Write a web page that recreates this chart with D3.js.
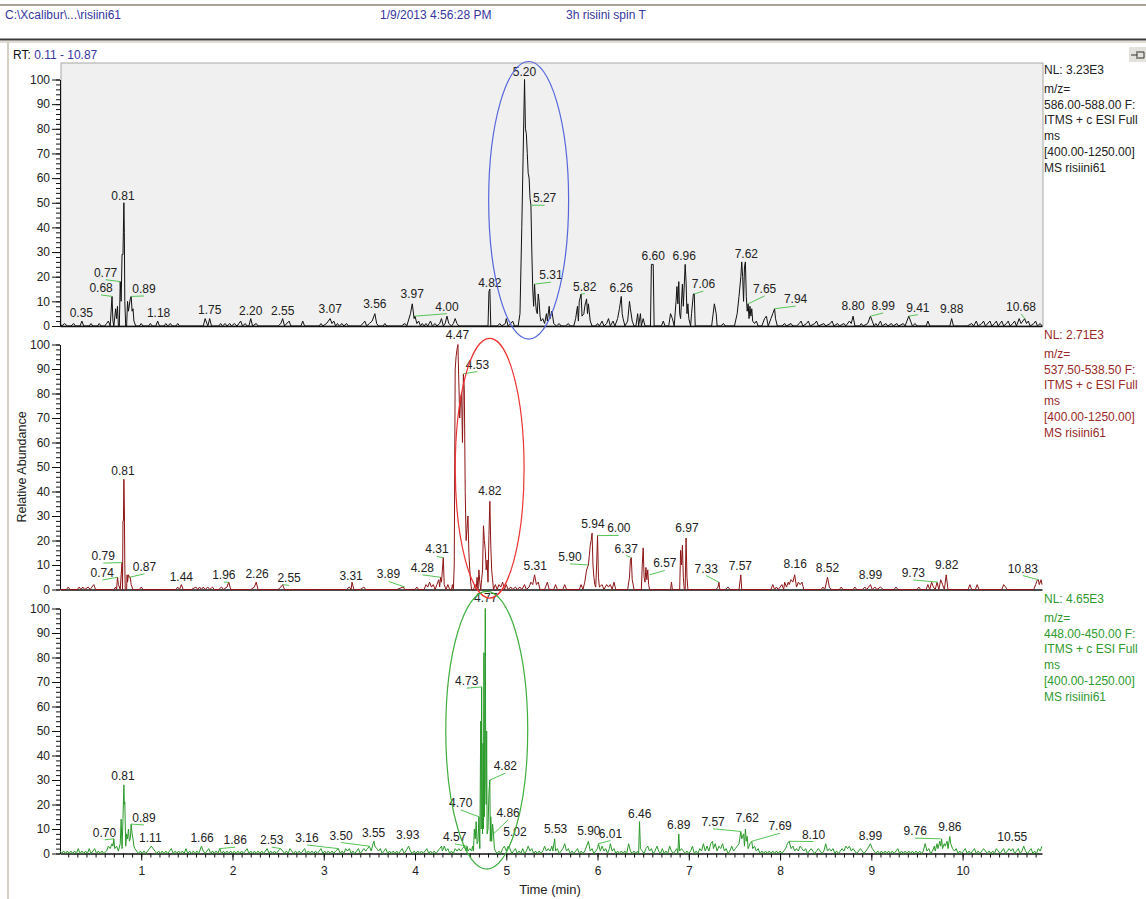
<!DOCTYPE html>
<html><head><meta charset="utf-8">
<script src="https://cdn.jsdelivr.net/npm/d3@7"></script>
<style>
html,body{margin:0;padding:0;background:#fff;}
svg{display:block;font-family:"Liberation Sans",Arial,sans-serif;}
</style></head>
<body>
<svg id="c" width="1146" height="899"></svg>
<script>
// ---------------- DATA ----------------
const headerTexts = ["C:\\Xcalibur\\...\\risiini61", "1/9/2013 4:56:28 PM", "3h risiini spin T"];
const rtRange = [0.11, 10.87];
const yTicks = [0,10,20,30,40,50,60,70,80,90,100];
const xTicks = [1,2,3,4,5,6,7,8,9,10];
const nlLabels = ["NL: 3.23E3", "NL: 2.71E3", "NL: 4.65E3"];
const mzRanges = ["586.00-588.00 F:", "537.50-538.50 F:", "448.00-450.00 F:"];
const scanLines = ["ITMS + c ESI Full", "ms", "[400.00-1250.00]", "MS risiini61"];

// trace 1 : m/z 586-588 (black)
const trace1 = [[0.11,1],[0.13,0],[0.16,1],[0.19,0],[0.23,0],[0.26,1],[0.28,0],[0.33,0],[0.35,2],[0.37,0],[0.43,0],[0.45,1],[0.47,0],[0.52,0],[0.54,1],[0.56,0],[0.60,0],[0.62,1],[0.64,2],[0.66,0],[0.68,12],[0.69,2],[0.70,0],[0.72,7],[0.73,3],[0.74,8],[0.75,0],[0.76,0],[0.77,18],[0.78,10],[0.79,29],[0.80,29],[0.81,50],[0.815,38],[0.82,10],[0.83,0],[0.84,0],[0.85,10],[0.86,6],[0.88,11],[0.89,12],[0.90,6],[0.91,7],[0.92,2],[0.94,0],[0.98,0],[1.00,1],[1.02,0],[1.08,0],[1.10,1],[1.12,0],[1.16,0],[1.18,2],[1.20,0],[1.25,0],[1.27,1],[1.29,0],[1.32,1],[1.34,0],[1.38,0],[1.40,1],[1.42,0],[1.50,0],[1.60,0],[1.68,0],[1.70,3],[1.72,1],[1.73,0],[1.75,3],[1.77,0],[1.85,0],[1.87,1],[1.89,0],[1.92,1],[1.94,0],[1.97,1],[1.99,0],[2.02,1],[2.05,0],[2.09,2],[2.11,0],[2.14,1],[2.16,0],[2.18,0],[2.20,3],[2.22,0],[2.26,1],[2.28,0],[2.33,0],[2.40,0],[2.50,0],[2.53,1],[2.55,3],[2.57,0],[2.62,2],[2.64,0],[2.75,0],[2.77,2],[2.79,0],[2.90,0],[2.95,0],[2.97,1],[2.99,0],[3.03,1],[3.05,2],[3.07,3],[3.09,1],[3.11,2],[3.13,0],[3.15,1],[3.17,0],[3.20,1],[3.22,0],[3.25,1],[3.27,0],[3.35,0],[3.40,0],[3.43,1],[3.45,2],[3.47,0],[3.50,1],[3.53,2],[3.56,5],[3.58,1],[3.60,0],[3.65,0],[3.67,1],[3.69,0],[3.75,0],[3.80,0],[3.85,0],[3.89,1],[3.91,0],[3.95,5],[3.97,9],[3.99,3],[4.00,4],[4.02,1],[4.04,2],[4.06,0],[4.08,1],[4.10,0],[4.12,1],[4.14,0],[4.17,2],[4.19,0],[4.22,1],[4.24,0],[4.27,1],[4.29,3],[4.31,0],[4.33,1],[4.35,4],[4.37,1],[4.40,0],[4.42,1],[4.44,3],[4.46,1],[4.48,0],[4.55,0],[4.60,0],[4.65,0],[4.72,0],[4.80,0],[4.81,14],[4.82,15],[4.83,0],[4.90,0],[4.93,1],[4.95,0],[4.99,1],[5.00,3],[5.02,0],[5.05,1],[5.07,2],[5.09,0],[5.13,0],[5.15,5],[5.17,40],[5.18,60],[5.20,100],[5.21,80],[5.22,78],[5.23,70],[5.24,62],[5.25,60],[5.26,52],[5.27,49],[5.28,30],[5.29,15],[5.30,8],[5.31,17],[5.32,10],[5.33,6],[5.34,5],[5.35,13],[5.36,10],[5.37,4],[5.38,2],[5.40,3],[5.42,1],[5.44,5],[5.45,2],[5.47,8],[5.48,3],[5.50,6],[5.52,1],[5.55,0],[5.58,1],[5.60,0],[5.65,0],[5.68,1],[5.70,0],[5.74,0],[5.76,3],[5.78,8],[5.79,2],[5.80,10],[5.82,13],[5.83,4],[5.85,5],[5.86,8],[5.88,11],[5.89,5],[5.90,9],[5.92,2],[5.94,0],[5.98,0],[6.00,1],[6.02,0],[6.05,2],[6.07,0],[6.10,1],[6.12,3],[6.14,0],[6.17,2],[6.19,0],[6.22,3],[6.24,7],[6.26,12],[6.27,5],[6.28,3],[6.30,0],[6.33,2],[6.35,10],[6.36,7],[6.38,2],[6.40,0],[6.42,0],[6.44,5],[6.45,0],[6.47,5],[6.48,0],[6.50,3],[6.52,0],[6.58,0],[6.59,25],[6.61,25],[6.62,0],[6.65,0],[6.70,0],[6.72,2],[6.74,0],[6.78,0],[6.80,5],[6.82,3],[6.84,0],[6.86,10],[6.87,16],[6.88,9],[6.89,18],[6.90,5],[6.91,3],[6.93,17],[6.94,8],[6.96,25],[6.97,18],[6.98,5],[6.99,9],[7.00,3],[7.02,0],[7.03,5],[7.05,13],[7.06,13],[7.07,0],[7.10,0],[7.15,0],[7.20,0],[7.25,0],[7.28,9],[7.30,5],[7.31,0],[7.35,0],[7.38,1],[7.40,0],[7.45,0],[7.50,0],[7.53,5],[7.55,12],[7.57,20],[7.58,26],[7.59,20],[7.60,10],[7.61,24],[7.62,26],[7.63,12],[7.64,6],[7.65,9],[7.66,3],[7.67,8],[7.68,4],[7.69,7],[7.70,2],[7.72,1],[7.74,2],[7.76,0],[7.80,0],[7.83,3],[7.85,4],[7.87,0],[7.90,3],[7.92,5],[7.94,7],[7.95,3],[7.97,0],[8.02,0],[8.05,1],[8.07,0],[8.12,1],[8.14,0],[8.18,0],[8.21,1],[8.23,2],[8.25,0],[8.29,1],[8.31,2],[8.33,0],[8.38,1],[8.40,2],[8.42,0],[8.48,1],[8.50,0],[8.55,1],[8.57,2],[8.59,0],[8.63,1],[8.65,0],[8.70,1],[8.72,0],[8.76,2],[8.78,1],[8.80,4],[8.82,0],[8.87,0],[8.89,1],[8.91,0],[8.96,1],[8.99,4],[9.01,2],[9.03,0],[9.05,1],[9.07,0],[9.10,2],[9.12,0],[9.16,1],[9.18,0],[9.22,1],[9.24,0],[9.28,1],[9.30,0],[9.35,1],[9.37,0],[9.39,2],[9.41,4],[9.43,2],[9.45,0],[9.48,1],[9.50,0],[9.55,0],[9.60,0],[9.62,2],[9.64,0],[9.70,0],[9.80,0],[9.86,0],[9.88,3],[9.90,0],[9.98,0],[10.00,0],[10.05,0],[10.10,1],[10.12,0],[10.15,2],[10.17,0],[10.21,1],[10.23,2],[10.25,0],[10.30,2],[10.32,0],[10.35,1],[10.37,2],[10.39,0],[10.43,2],[10.45,0],[10.48,1],[10.50,2],[10.52,0],[10.55,1],[10.57,2],[10.59,0],[10.62,3],[10.64,1],[10.66,2],[10.68,3],[10.70,1],[10.72,2],[10.74,0],[10.78,1],[10.80,2],[10.82,0],[10.85,1],[10.87,0]];

// trace 2 : m/z 537.5-538.5 (dark red)
const trace2 = [[0.11,0],[0.18,0],[0.20,1],[0.22,0],[0.30,0],[0.32,1],[0.34,0],[0.36,1],[0.38,0],[0.42,1],[0.44,0],[0.48,2],[0.50,0],[0.58,0],[0.62,0],[0.70,0],[0.72,1],[0.73,0],[0.74,5],[0.75,2],[0.77,0],[0.78,6],[0.79,11],[0.795,0],[0.80,28],[0.805,28],[0.81,45],[0.815,34],[0.82,10],[0.825,0],[0.84,0],[0.845,6],[0.85,3],[0.86,6],[0.87,5],[0.88,5],[0.89,2],[0.91,0],[0.98,0],[1.00,1],[1.02,0],[1.10,0],[1.20,0],[1.30,0],[1.38,0],[1.40,1],[1.42,0],[1.44,2],[1.46,0],[1.50,0],[1.55,0],[1.60,1],[1.62,0],[1.64,1],[1.66,0],[1.68,1],[1.70,0],[1.73,1],[1.75,0],[1.78,1],[1.80,0],[1.85,0],[1.88,1],[1.90,0],[1.94,1],[1.96,3],[1.98,0],[2.05,0],[2.15,0],[2.20,0],[2.24,1],[2.26,3],[2.28,0],[2.40,0],[2.50,0],[2.53,1],[2.55,2],[2.57,0],[2.70,0],[2.90,0],[3.10,0],[3.25,0],[3.28,1],[3.30,0],[3.31,3],[3.33,0],[3.40,0],[3.44,1],[3.46,0],[3.60,0],[3.80,0],[3.87,1],[3.89,0],[3.95,0],[4.00,0],[4.02,1],[4.04,0],[4.10,0],[4.12,2],[4.14,1],[4.16,3],[4.18,1],[4.20,2],[4.22,0],[4.24,2],[4.26,4],[4.27,1],[4.28,5],[4.29,3],[4.30,8],[4.31,13],[4.32,2],[4.34,0],[4.36,2],[4.38,0],[4.40,0],[4.41,2],[4.42,0],[4.43,10],[4.44,90],[4.45,95],[4.46,98],[4.47,100],[4.48,85],[4.49,70],[4.50,78],[4.51,80],[4.52,60],[4.53,88],[4.54,82],[4.55,40],[4.56,20],[4.57,25],[4.58,30],[4.59,15],[4.60,8],[4.61,3],[4.62,0],[4.64,0],[4.66,2],[4.67,0],[4.68,5],[4.69,0],[4.70,8],[4.71,3],[4.72,0],[4.73,4],[4.74,8],[4.75,26],[4.76,20],[4.77,16],[4.78,8],[4.79,12],[4.80,3],[4.81,22],[4.82,36],[4.83,18],[4.84,8],[4.85,4],[4.86,0],[4.88,2],[4.90,0],[4.92,2],[4.94,1],[4.96,3],[4.98,0],[5.00,2],[5.02,0],[5.05,1],[5.07,0],[5.10,1],[5.12,0],[5.15,1],[5.17,0],[5.20,2],[5.22,0],[5.25,1],[5.27,3],[5.29,2],[5.31,6],[5.33,2],[5.35,3],[5.37,0],[5.42,0],[5.45,3],[5.47,0],[5.52,0],[5.54,2],[5.56,0],[5.62,0],[5.64,2],[5.66,0],[5.75,0],[5.80,0],[5.82,2],[5.84,0],[5.86,3],[5.88,8],[5.90,10],[5.91,14],[5.92,18],[5.93,20],[5.94,23],[5.95,10],[5.96,5],[5.97,2],[5.98,1],[5.99,10],[6.00,22],[6.01,5],[6.02,1],[6.05,2],[6.07,0],[6.10,2],[6.12,1],[6.14,2],[6.16,0],[6.18,3],[6.20,0],[6.25,0],[6.30,0],[6.33,0],[6.35,5],[6.36,12],[6.37,13],[6.38,4],[6.40,0],[6.45,0],[6.48,0],[6.49,10],[6.50,17],[6.51,5],[6.52,3],[6.53,9],[6.54,4],[6.55,8],[6.56,2],[6.57,0],[6.60,0],[6.70,0],[6.80,0],[6.81,3],[6.82,0],[6.90,0],[6.91,16],[6.92,10],[6.93,18],[6.94,5],[6.95,0],[6.96,0],[6.97,21],[6.98,5],[6.99,0],[7.05,0],[7.15,0],[7.30,0],[7.32,1],[7.33,3],[7.34,0],[7.40,0],[7.43,1],[7.45,0],[7.55,0],[7.57,6],[7.58,0],[7.65,0],[7.80,0],[7.90,0],[7.92,2],[7.94,0],[7.96,1],[7.98,0],[8.02,2],[8.04,0],[8.05,3],[8.07,1],[8.09,3],[8.10,2],[8.12,4],[8.14,3],[8.16,6],[8.18,1],[8.20,3],[8.22,2],[8.24,3],[8.26,0],[8.30,0],[8.40,0],[8.45,0],[8.47,1],[8.49,0],[8.52,5],[8.54,1],[8.56,0],[8.65,0],[8.67,1],[8.69,0],[8.80,0],[8.82,1],[8.84,0],[8.90,0],[8.93,1],[8.95,0],[8.97,1],[8.99,2],[9.01,0],[9.04,1],[9.06,0],[9.10,1],[9.13,0],[9.20,0],[9.25,0],[9.27,1],[9.29,0],[9.40,0],[9.50,0],[9.52,1],[9.54,0],[9.60,0],[9.62,2],[9.64,0],[9.66,3],[9.68,1],[9.70,0],[9.72,3],[9.74,0],[9.76,4],[9.78,2],[9.80,0],[9.82,6],[9.84,0],[9.90,0],[10.00,0],[10.06,0],[10.08,2],[10.10,0],[10.14,0],[10.16,2],[10.18,0],[10.30,0],[10.40,0],[10.43,0],[10.45,2],[10.47,1],[10.49,0],[10.60,0],[10.70,0],[10.78,0],[10.80,2],[10.82,4],[10.83,4],[10.84,2],[10.86,4],[10.87,2]];

// trace 3 : m/z 448-450 (green)
const trace3 = [[0.11,1],[0.13,0],[0.15,1],[0.17,0],[0.19,1],[0.21,0],[0.23,1],[0.25,0],[0.27,1],[0.29,0],[0.31,2],[0.33,0],[0.35,1],[0.37,0],[0.39,1],[0.41,0],[0.43,2],[0.45,0],[0.47,1],[0.49,2],[0.51,0],[0.53,1],[0.55,0],[0.57,1],[0.59,0],[0.62,1],[0.64,3],[0.66,2],[0.68,4],[0.69,3],[0.70,6],[0.71,2],[0.73,3],[0.75,1],[0.77,4],[0.78,14],[0.79,2],[0.80,14],[0.81,28],[0.815,20],[0.82,21],[0.83,3],[0.84,8],[0.85,6],[0.86,10],[0.87,5],[0.88,6],[0.89,12],[0.90,8],[0.91,6],[0.92,3],[0.93,2],[0.95,1],[0.97,0],[0.99,1],[1.01,0],[1.03,1],[1.05,0],[1.07,1],[1.09,2],[1.11,3],[1.13,2],[1.15,1],[1.17,0],[1.19,1],[1.21,0],[1.23,1],[1.25,0],[1.27,1],[1.29,0],[1.31,1],[1.33,2],[1.35,0],[1.37,1],[1.39,0],[1.41,1],[1.43,0],[1.45,1],[1.47,0],[1.49,2],[1.51,0],[1.53,1],[1.55,0],[1.57,1],[1.59,0],[1.61,1],[1.63,0],[1.66,3],[1.68,1],[1.70,0],[1.72,1],[1.74,2],[1.76,0],[1.78,1],[1.80,0],[1.82,1],[1.84,0],[1.86,2],[1.88,0],[1.90,1],[1.92,0],[1.94,1],[1.96,0],[1.98,1],[2.00,0],[2.02,1],[2.04,0],[2.06,1],[2.08,0],[2.10,1],[2.12,0],[2.14,1],[2.16,2],[2.18,0],[2.20,1],[2.22,0],[2.24,1],[2.26,0],[2.28,1],[2.30,0],[2.32,1],[2.34,0],[2.36,1],[2.38,2],[2.40,0],[2.42,1],[2.44,0],[2.46,1],[2.48,0],[2.50,1],[2.53,2],[2.55,1],[2.57,0],[2.59,1],[2.61,0],[2.63,2],[2.65,1],[2.67,0],[2.69,1],[2.71,0],[2.73,1],[2.75,0],[2.77,1],[2.79,2],[2.81,0],[2.83,1],[2.85,0],[2.87,1],[2.89,0],[2.91,1],[2.93,0],[2.95,1],[2.97,2],[2.99,0],[3.01,1],[3.03,0],[3.05,1],[3.07,0],[3.09,1],[3.11,0],[3.13,1],[3.16,2],[3.18,0],[3.20,1],[3.22,0],[3.24,2],[3.26,1],[3.28,2],[3.30,0],[3.32,1],[3.34,0],[3.36,1],[3.38,2],[3.40,0],[3.42,1],[3.44,2],[3.46,1],[3.48,2],[3.50,3],[3.52,1],[3.54,4],[3.55,5],[3.56,3],[3.58,2],[3.60,1],[3.62,2],[3.64,0],[3.66,1],[3.68,2],[3.70,0],[3.72,1],[3.74,0],[3.76,1],[3.78,0],[3.80,1],[3.82,0],[3.84,1],[3.86,2],[3.88,0],[3.90,1],[3.93,3],[3.95,1],[3.97,0],[3.99,1],[4.01,0],[4.03,1],[4.05,0],[4.07,1],[4.09,0],[4.11,1],[4.13,2],[4.15,0],[4.17,1],[4.19,0],[4.21,1],[4.23,0],[4.25,1],[4.27,2],[4.29,3],[4.30,1],[4.32,3],[4.34,1],[4.36,2],[4.38,0],[4.40,1],[4.42,0],[4.44,2],[4.46,1],[4.48,2],[4.50,1],[4.52,2],[4.54,3],[4.56,1],[4.57,3],[4.58,1],[4.60,2],[4.62,1],[4.63,3],[4.64,1],[4.65,10],[4.66,6],[4.67,13],[4.68,4],[4.69,5],[4.70,15],[4.71,2],[4.72,54],[4.725,10],[4.73,68],[4.735,20],[4.74,8],[4.745,45],[4.75,10],[4.755,82],[4.76,15],[4.77,100],[4.775,30],[4.78,20],[4.785,50],[4.79,8],[4.80,10],[4.81,25],[4.82,30],[4.825,5],[4.83,15],[4.84,5],[4.85,12],[4.86,8],[4.87,2],[4.88,1],[4.90,0],[4.92,1],[4.94,0],[4.96,2],[4.98,3],[5.00,1],[5.02,3],[5.04,2],[5.06,0],[5.08,1],[5.10,2],[5.12,0],[5.14,1],[5.16,0],[5.18,2],[5.20,0],[5.22,1],[5.24,3],[5.26,1],[5.28,2],[5.30,0],[5.32,1],[5.34,0],[5.36,1],[5.38,0],[5.40,1],[5.42,3],[5.44,1],[5.46,2],[5.48,1],[5.50,3],[5.51,1],[5.53,6],[5.54,1],[5.56,2],[5.58,0],[5.60,1],[5.62,2],[5.64,4],[5.66,1],[5.68,2],[5.70,0],[5.72,1],[5.74,0],[5.76,1],[5.78,2],[5.80,0],[5.82,1],[5.84,0],[5.86,1],[5.88,3],[5.90,5],[5.92,1],[5.94,2],[5.96,0],[5.98,1],[6.00,2],[6.01,4],[6.03,1],[6.05,3],[6.07,1],[6.09,2],[6.11,0],[6.13,2],[6.14,4],[6.16,1],[6.18,2],[6.20,0],[6.22,1],[6.24,0],[6.26,1],[6.28,0],[6.30,1],[6.32,0],[6.34,4],[6.36,1],[6.38,0],[6.40,1],[6.42,0],[6.44,1],[6.45,0],[6.46,13],[6.47,2],[6.49,1],[6.51,0],[6.53,2],[6.55,3],[6.57,1],[6.59,2],[6.61,0],[6.63,1],[6.65,3],[6.67,1],[6.69,0],[6.71,2],[6.73,0],[6.75,1],[6.77,0],[6.79,3],[6.81,1],[6.83,0],[6.85,1],[6.87,2],[6.88,0],[6.89,8],[6.90,1],[6.92,2],[6.94,1],[6.96,0],[6.98,1],[7.00,0],[7.02,1],[7.04,3],[7.06,0],[7.08,1],[7.10,0],[7.12,2],[7.14,1],[7.16,4],[7.18,1],[7.20,3],[7.22,1],[7.24,4],[7.26,5],[7.27,2],[7.29,4],[7.31,1],[7.33,3],[7.35,2],[7.37,4],[7.39,1],[7.41,2],[7.43,0],[7.45,1],[7.47,3],[7.49,1],[7.51,2],[7.53,3],[7.55,4],[7.57,9],[7.58,6],[7.60,8],[7.61,3],[7.62,10],[7.63,5],[7.64,7],[7.65,2],[7.67,4],[7.69,5],[7.70,2],[7.72,3],[7.74,1],[7.76,2],[7.78,0],[7.80,1],[7.82,0],[7.84,1],[7.86,0],[7.88,1],[7.90,0],[7.92,1],[7.94,0],[7.96,1],[7.98,0],[8.00,1],[8.02,0],[8.04,1],[8.06,2],[8.08,4],[8.10,5],[8.12,2],[8.14,3],[8.16,1],[8.18,2],[8.20,1],[8.22,3],[8.24,2],[8.26,1],[8.28,2],[8.30,0],[8.32,1],[8.34,2],[8.36,1],[8.38,0],[8.40,1],[8.42,2],[8.44,1],[8.46,0],[8.48,1],[8.50,4],[8.52,1],[8.54,2],[8.56,1],[8.58,2],[8.60,0],[8.62,1],[8.64,0],[8.66,1],[8.68,2],[8.70,1],[8.72,3],[8.74,2],[8.76,3],[8.78,1],[8.80,2],[8.82,1],[8.84,0],[8.86,1],[8.88,2],[8.90,1],[8.92,0],[8.94,1],[8.96,2],[8.99,4],[9.01,2],[9.03,1],[9.05,0],[9.07,1],[9.09,0],[9.11,1],[9.13,0],[9.15,1],[9.17,0],[9.19,1],[9.21,0],[9.23,1],[9.25,0],[9.27,1],[9.29,2],[9.31,0],[9.33,1],[9.35,0],[9.37,1],[9.39,0],[9.41,1],[9.43,0],[9.45,1],[9.47,0],[9.49,1],[9.51,0],[9.53,1],[9.55,0],[9.57,1],[9.59,4],[9.61,1],[9.63,2],[9.65,0],[9.67,1],[9.69,3],[9.70,1],[9.72,4],[9.73,2],[9.75,5],[9.76,3],[9.77,6],[9.78,2],[9.80,4],[9.81,3],[9.83,5],[9.84,2],[9.86,7],[9.87,4],[9.89,2],[9.91,1],[9.93,2],[9.95,0],[9.97,1],[9.99,0],[10.01,1],[10.03,2],[10.05,0],[10.07,1],[10.09,0],[10.11,1],[10.13,2],[10.15,0],[10.17,1],[10.19,0],[10.21,1],[10.23,2],[10.25,1],[10.27,0],[10.29,1],[10.31,0],[10.33,1],[10.35,0],[10.37,2],[10.39,1],[10.41,0],[10.43,1],[10.45,2],[10.47,0],[10.49,1],[10.51,2],[10.53,1],[10.55,2],[10.57,0],[10.59,1],[10.61,2],[10.63,0],[10.65,1],[10.67,3],[10.69,1],[10.71,0],[10.73,1],[10.75,2],[10.77,0],[10.79,1],[10.81,0],[10.83,2],[10.85,1],[10.87,3]];

// peak labels: [text, peak time, peak value, label time (centre), label level (baseline), leader]
const labels1 = [["0.35",0.35,2,0.344,3.6,0],["0.68",0.68,12,0.56,13.8,1],["0.77",0.77,18,0.61,20,1],["0.81",0.81,50,0.80,51,0],["0.89",0.89,12,1.03,13.4,1],["1.18",1.18,2,1.19,3.8,0],["1.75",1.75,3,1.75,4.9,0],["2.20",2.20,3,2.20,4.5,0],["2.55",2.55,3,2.55,4.5,0],["3.07",3.07,3,3.07,5.3,0],["3.56",3.56,5,3.56,7.3,0],["3.97",3.97,9,3.97,11.3,0],["4.00",4.00,4,4.35,6.2,1],["4.82",4.82,15,4.82,15.9,0],["5.20",5.20,100,5.20,101.3,0],["5.27",5.27,49,5.42,50.2,1],["5.31",5.31,17,5.49,19,1],["5.82",5.82,13,5.86,14.3,1],["6.26",6.26,12,6.26,13.9,0],["6.60",6.60,25,6.61,26.7,0],["6.96",6.96,25,6.95,26.7,0],["7.06",7.06,13,7.16,15.4,1],["7.62",7.62,26,7.63,27.5,0],["7.65",7.65,9,7.83,13.4,1],["7.94",7.94,7,8.17,9.3,1],["8.80",8.80,4,8.80,6.5,0],["8.99",8.99,4,9.13,6.5,1],["9.41",9.41,4,9.51,5.8,1],["9.88",9.88,3,9.88,5.4,0],["10.68",10.68,3,10.64,6.2,1]];
const labels2 = [["0.74",0.74,5,0.573,5.1,1],["0.79",0.79,11,0.584,12,1],["0.81",0.81,45,0.80,46.7,0],["0.87",0.87,5,1.036,7.6,1],["1.44",1.44,2,1.44,3.5,0],["1.96",1.96,3,1.905,4.2,1],["2.26",2.26,3,2.27,4.7,0],["2.55",2.55,2,2.62,2.9,1],["3.31",3.31,3,3.30,3.8,0],["3.89",3.89,1,3.71,4.5,1],["4.28",4.28,5,4.08,7.2,1],["4.31",4.31,13,4.24,14.7,1],["4.47",4.47,100,4.465,102.4,0],["4.53",4.53,88,4.684,90.2,1],["4.82",4.82,36,4.82,38.5,0],["5.31",5.31,6,5.318,7.9,0],["5.90",5.90,10,5.697,11.7,1],["5.94",5.94,23,5.95,25.3,0],["6.00",6.00,22,6.233,23.3,1],["6.37",6.37,13,6.314,15.1,1],["6.57",6.57,6,6.737,9,1],["6.97",6.97,21,6.98,23.3,0],["7.33",7.33,3,7.19,6.9,1],["7.57",7.57,6,7.565,7.9,0],["8.16",8.16,6,8.166,8.6,0],["8.52",8.52,5,8.52,7.2,0],["8.99",8.99,2,8.99,4.1,0],["9.73",9.73,3,9.46,5.1,1],["9.82",9.82,6,9.826,8.2,0],["10.83",10.83,4,10.66,6.9,1]];
const labels3 = [["0.70",0.70,6,0.598,6.8,1],["0.81",0.81,28,0.80,29.9,0],["0.89",0.89,12,1.03,12.9,1],["1.11",1.11,3,1.10,4.7,0],["1.66",1.66,3,1.667,4.5,0],["1.86",1.86,2,2.03,3.8,1],["2.53",2.53,2,2.43,3.8,1],["3.16",3.16,2,2.816,4.7,1],["3.50",3.50,3,3.19,5.7,1],["3.55",3.55,5,3.546,6.8,0],["3.93",3.93,3,3.92,6.1,0],["4.57",4.57,3,4.435,5.1,1],["4.70",4.70,15,4.50,19,1],["4.73",4.73,68,4.567,68.7,1],["4.77",4.77,100,4.775,102.7,0],["4.82",4.82,30,4.99,34,1],["4.86",4.86,8,5.02,15,1],["5.02",5.02,3,5.095,7,0],["5.53",5.53,6,5.54,8.4,0],["5.90",5.90,5,5.905,7.5,0],["6.01",6.01,4,6.142,6.5,1],["6.46",6.46,13,6.463,14.5,0],["6.89",6.89,8,6.89,9.9,0],["7.57",7.57,9,7.266,11.3,1],["7.62",7.62,10,7.64,12.9,0],["7.69",7.69,5,8.00,9.5,1],["8.10",8.10,5,8.367,6.1,1],["8.99",8.99,4,8.99,5.7,0],["9.76",9.76,6,9.48,7.5,1],["9.86",9.86,7,9.86,9.2,0],["10.55",10.55,2,10.544,5.1,0]];

// highlighted regions: [centre time, centre level, half-width (min), half-height (%)]
const ellipses = [[5.245,51,0.438,56.3],[4.818,49.5,0.377,53],[4.786,50.3,0.449,56.7]];

// ---------------- DRAW ----------------
const svg = d3.select("#c");
const FONT = '"Liberation Sans",Arial,sans-serif';
const panels = [
  {y0:326, y1:79.5, color:"#111111", text:"#222222", trace:trace1, labels:labels1, ell:"#5566dd"},
  {y0:589.5, y1:344.5, color:"#8e1515", text:"#9a2a2a", trace:trace2, labels:labels2, ell:"#ee3333"},
  {y0:853.5, y1:608.5, color:"#2a9a2a", text:"#2f9a2f", trace:trace3, labels:labels3, ell:"#3fae3f"}
];
const x = d3.scaleLinear().domain(rtRange).range([60, 1042]);

// window chrome
svg.append("line").attr("x1",0).attr("x2",1146).attr("y1",5).attr("y2",5).attr("stroke","#8c8474").attr("stroke-width",1.5);
svg.append("line").attr("x1",0).attr("x2",1146).attr("y1",39.5).attr("y2",39.5).attr("stroke","#3a3a3a").attr("stroke-width",2);
svg.append("line").attr("x1",0).attr("x2",1146).attr("y1",42).attr("y2",42).attr("stroke","#d8d2c4").attr("stroke-width",1.5);
svg.append("line").attr("x1",8).attr("x2",8).attr("y1",42).attr("y2",899).attr("stroke","#d4cfc2").attr("stroke-width",2);
const hx = [5, 380, 566];
headerTexts.forEach((t,i)=>svg.append("text").attr("x",hx[i]).attr("y",19).attr("font-family",FONT).attr("font-size",12).attr("fill","#3636a0").text(t));
const rt = svg.append("text").attr("x",13).attr("y",59).attr("font-family",FONT).attr("font-size",12);
rt.append("tspan").attr("fill","#111").text("RT: ");
rt.append("tspan").attr("fill","#3636a0").text(rtRange[0].toFixed(2)+" - "+rtRange[1].toFixed(2));
// pin button
svg.append("rect").attr("x",1129).attr("y",47).attr("width",17).attr("height",15).attr("fill","#e4e2dc");
svg.append("path").attr("d","M1131,55 h6 M1137,51 v8 M1138,52 h6 v6 h-6").attr("stroke","#333").attr("fill","none").attr("stroke-width",1);

// top panel background
svg.append("rect").attr("x",61).attr("y",63).attr("width",982).attr("height",263).attr("fill","#f0f0f0").attr("stroke","#a8a8a8").attr("stroke-width",1);

panels.forEach((p,pi)=>{
  const y = d3.scaleLinear().domain([0,100]).range([p.y0, p.y1]);
  p.y = y;
  // y axis
  const gy = svg.append("g").attr("transform","translate(60,0)");
  gy.call(d3.axisLeft(y).tickValues(d3.range(0,101,2)).tickSize(4).tickSizeOuter(0).tickFormat(""));
  const gy2 = svg.append("g").attr("transform","translate(60,0)");
  gy2.call(d3.axisLeft(y).tickValues(yTicks).tickSize(8).tickSizeOuter(0).tickPadding(2));
  [gy,gy2].forEach(g=>{
    g.selectAll("line").attr("stroke","#111");
    g.select(".domain").attr("stroke","#111");
    g.selectAll("text").attr("font-family",FONT).attr("font-size",12).attr("fill","#222");
  });
  // x axis line
  const gx = svg.append("g").attr("transform",`translate(0,${p.y0})`);
  if (pi === 2) {
    gx.call(d3.axisBottom(x).tickValues(d3.range(2,109).map(v=>v/10)).tickSize(4).tickSizeOuter(0).tickFormat(""));
    const gx2 = svg.append("g").attr("transform",`translate(0,${p.y0})`);
    gx2.call(d3.axisBottom(x).tickValues(xTicks).tickSize(7).tickSizeOuter(0).tickPadding(6).tickFormat(d3.format("d")));
    gx2.select(".domain").remove();
    gx2.selectAll("line").attr("stroke","#111");
    gx2.selectAll("text").attr("font-family",FONT).attr("font-size",12).attr("fill","#222");
  } else {
    gx.call(d3.axisBottom(x).tickValues([]).tickSizeOuter(0));
  }
  gx.selectAll("line").attr("stroke","#111");
  gx.select(".domain").attr("stroke","#111").attr("stroke-width",1.3);

  // trace
  const line = d3.line().x(d=>x(d[0])).y(d=>y(d[1]));
  svg.append("path").datum(p.trace).attr("d",line).attr("fill","none").attr("stroke",p.color).attr("stroke-width",1).attr("stroke-linejoin","round");

  // labels
  const lg = svg.append("g");
  p.labels.forEach(l=>{
    if (l[5]) {
      lg.append("line").attr("x1",x(l[1])).attr("y1",y(l[2])).attr("x2",x(l[3])).attr("y2",y(l[4])+3)
        .attr("stroke","#55c455").attr("stroke-width",1);
    }
    lg.append("text").attr("x",x(l[3])).attr("y",y(l[4])).attr("text-anchor","middle")
      .attr("font-family",FONT).attr("font-size",12).attr("fill","#222").text(l[0]);
  });

  // right-side info
  const tx = 1044, ty = p.y1 - 5.5;
  const info = [nlLabels[pi], "m/z=", mzRanges[pi]].concat(scanLines);
  info.forEach((t,i)=>{
    svg.append("text").attr("x",tx).attr("y", i===0 ? ty : ty + 19 + (i-1)*15.7)
      .attr("font-family",FONT).attr("font-size",12).attr("fill",p.text).text(t);
  });
});

// ellipses (drawn on top)
ellipses.forEach((e,i)=>{
  const y = panels[i].y;
  svg.append("ellipse").attr("cx",x(e[0])).attr("cy",y(e[1]))
    .attr("rx",x(e[0]+e[2])-x(e[0])).attr("ry",y(0)-y(e[3]))
    .attr("fill","none").attr("stroke",panels[i].ell).attr("stroke-width",1.2);
});

// axis titles
svg.append("text").attr("transform","translate(26,467) rotate(-90)").attr("text-anchor","middle")
  .attr("font-family",FONT).attr("font-size",12.5).attr("fill","#222").text("Relative Abundance");
svg.append("text").attr("x",550).attr("y",894).attr("text-anchor","middle")
  .attr("font-family",FONT).attr("font-size",13).attr("fill","#222").text("Time (min)");
</script>
</body></html>
